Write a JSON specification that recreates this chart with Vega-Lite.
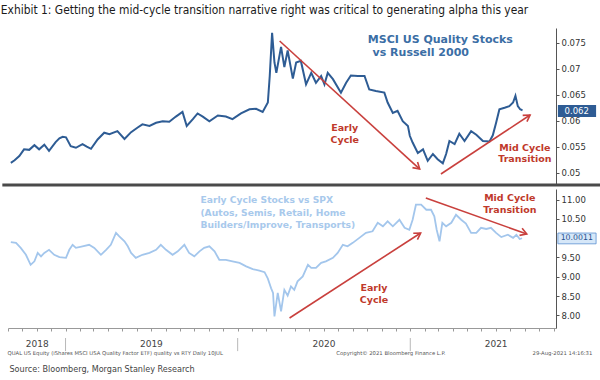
{
  "$schema": "https://vega.github.io/schema/vega-lite/v6.json",
  "padding": {"left": 0, "top": 4, "right": 0, "bottom": 0},
  "background": "white",
  "spacing": 2,
  "config": {"view": {"stroke": null}, "font": "DejaVu Sans"},
  "datasets": {
    "quality": [
      {"date": "2018-09-07", "v": 0.0519}, {"date": "2018-09-15", "v": 0.0524}, {"date": "2018-09-25", "v": 0.0532},
      {"date": "2018-10-05", "v": 0.0545}, {"date": "2018-10-16", "v": 0.0544}, {"date": "2018-10-27", "v": 0.0553},
      {"date": "2018-11-06", "v": 0.0545}, {"date": "2018-11-17", "v": 0.0554}, {"date": "2018-11-27", "v": 0.0542},
      {"date": "2018-12-11", "v": 0.0559}, {"date": "2018-12-19", "v": 0.0566}, {"date": "2018-12-26", "v": 0.0569},
      {"date": "2019-01-02", "v": 0.0568}, {"date": "2019-01-12", "v": 0.0551}, {"date": "2019-01-23", "v": 0.0548},
      {"date": "2019-02-06", "v": 0.0555}, {"date": "2019-02-15", "v": 0.055}, {"date": "2019-02-24", "v": 0.0546},
      {"date": "2019-03-10", "v": 0.0564}, {"date": "2019-03-24", "v": 0.0577}, {"date": "2019-04-04", "v": 0.0574},
      {"date": "2019-04-21", "v": 0.058}, {"date": "2019-05-06", "v": 0.0565}, {"date": "2019-05-20", "v": 0.0578},
      {"date": "2019-06-03", "v": 0.0587}, {"date": "2019-06-13", "v": 0.0593}, {"date": "2019-06-28", "v": 0.059},
      {"date": "2019-07-12", "v": 0.0596}, {"date": "2019-07-26", "v": 0.0599}, {"date": "2019-08-09", "v": 0.0598},
      {"date": "2019-08-23", "v": 0.0608}, {"date": "2019-09-06", "v": 0.0617}, {"date": "2019-09-15", "v": 0.059},
      {"date": "2019-09-28", "v": 0.0603}, {"date": "2019-10-08", "v": 0.0614}, {"date": "2019-10-19", "v": 0.0608},
      {"date": "2019-11-02", "v": 0.0599}, {"date": "2019-11-20", "v": 0.061}, {"date": "2019-12-07", "v": 0.0608},
      {"date": "2019-12-21", "v": 0.0603}, {"date": "2020-01-08", "v": 0.0614}, {"date": "2020-01-26", "v": 0.0622},
      {"date": "2020-02-09", "v": 0.0623}, {"date": "2020-02-23", "v": 0.0617}, {"date": "2020-03-05", "v": 0.0635},
      {"date": "2020-03-09", "v": 0.0686}, {"date": "2020-03-14", "v": 0.0769}, {"date": "2020-03-19", "v": 0.0712},
      {"date": "2020-03-23", "v": 0.0692}, {"date": "2020-04-02", "v": 0.0742}, {"date": "2020-04-09", "v": 0.0703},
      {"date": "2020-04-16", "v": 0.0735}, {"date": "2020-04-27", "v": 0.0681}, {"date": "2020-05-04", "v": 0.0712},
      {"date": "2020-05-14", "v": 0.0715}, {"date": "2020-05-25", "v": 0.067}, {"date": "2020-06-05", "v": 0.0692},
      {"date": "2020-06-15", "v": 0.0673}, {"date": "2020-06-26", "v": 0.0686}, {"date": "2020-07-03", "v": 0.067},
      {"date": "2020-07-10", "v": 0.0692}, {"date": "2020-07-21", "v": 0.068}, {"date": "2020-08-07", "v": 0.0654},
      {"date": "2020-08-18", "v": 0.0673}, {"date": "2020-08-28", "v": 0.0687}, {"date": "2020-09-12", "v": 0.0686},
      {"date": "2020-09-26", "v": 0.0686}, {"date": "2020-10-06", "v": 0.066}, {"date": "2020-10-20", "v": 0.0657},
      {"date": "2020-11-07", "v": 0.0654}, {"date": "2020-11-14", "v": 0.0635}, {"date": "2020-11-25", "v": 0.0615},
      {"date": "2020-12-05", "v": 0.0619}, {"date": "2020-12-16", "v": 0.0599}, {"date": "2020-12-27", "v": 0.059},
      {"date": "2020-12-31", "v": 0.0571}, {"date": "2021-01-06", "v": 0.0558}, {"date": "2021-01-17", "v": 0.0538},
      {"date": "2021-01-28", "v": 0.0545}, {"date": "2021-02-07", "v": 0.0523}, {"date": "2021-02-18", "v": 0.0536},
      {"date": "2021-02-28", "v": 0.0526}, {"date": "2021-03-11", "v": 0.0518}, {"date": "2021-03-18", "v": 0.0536},
      {"date": "2021-03-25", "v": 0.0561}, {"date": "2021-04-05", "v": 0.0555}, {"date": "2021-04-15", "v": 0.0575},
      {"date": "2021-04-26", "v": 0.0561}, {"date": "2021-05-10", "v": 0.058}, {"date": "2021-05-21", "v": 0.0573},
      {"date": "2021-06-04", "v": 0.0561}, {"date": "2021-06-18", "v": 0.056}, {"date": "2021-06-25", "v": 0.0572},
      {"date": "2021-07-02", "v": 0.0596}, {"date": "2021-07-09", "v": 0.0622}, {"date": "2021-07-20", "v": 0.0625},
      {"date": "2021-07-30", "v": 0.0628}, {"date": "2021-08-07", "v": 0.0635}, {"date": "2021-08-12", "v": 0.0648},
      {"date": "2021-08-17", "v": 0.0628}, {"date": "2021-08-22", "v": 0.0622}, {"date": "2021-08-27", "v": 0.062}
    ],
    "early": [
      {"date": "2018-09-07", "v": 9.9}, {"date": "2018-09-18", "v": 9.88}, {"date": "2018-09-28", "v": 9.75},
      {"date": "2018-10-09", "v": 9.57}, {"date": "2018-10-19", "v": 9.31}, {"date": "2018-10-27", "v": 9.4},
      {"date": "2018-11-03", "v": 9.62}, {"date": "2018-11-10", "v": 9.53}, {"date": "2018-11-17", "v": 9.62},
      {"date": "2018-11-27", "v": 9.7}, {"date": "2018-12-08", "v": 9.57}, {"date": "2018-12-19", "v": 9.51},
      {"date": "2019-01-02", "v": 9.49}, {"date": "2019-01-09", "v": 9.7}, {"date": "2019-01-16", "v": 9.83},
      {"date": "2019-01-23", "v": 9.75}, {"date": "2019-02-06", "v": 9.79}, {"date": "2019-02-20", "v": 9.83},
      {"date": "2019-03-03", "v": 9.75}, {"date": "2019-03-17", "v": 9.57}, {"date": "2019-03-28", "v": 9.7},
      {"date": "2019-04-07", "v": 9.83}, {"date": "2019-04-18", "v": 10.14}, {"date": "2019-04-25", "v": 10.05},
      {"date": "2019-05-06", "v": 9.92}, {"date": "2019-05-13", "v": 9.79}, {"date": "2019-05-20", "v": 9.62},
      {"date": "2019-05-30", "v": 9.49}, {"date": "2019-06-13", "v": 9.57}, {"date": "2019-06-28", "v": 9.62},
      {"date": "2019-07-12", "v": 9.7}, {"date": "2019-07-22", "v": 9.83}, {"date": "2019-08-02", "v": 9.7},
      {"date": "2019-08-16", "v": 9.57}, {"date": "2019-08-27", "v": 9.66}, {"date": "2019-09-10", "v": 9.83},
      {"date": "2019-09-20", "v": 9.62}, {"date": "2019-10-01", "v": 9.53}, {"date": "2019-10-12", "v": 9.66},
      {"date": "2019-10-22", "v": 9.75}, {"date": "2019-11-02", "v": 9.79}, {"date": "2019-11-13", "v": 9.66},
      {"date": "2019-11-23", "v": 9.44}, {"date": "2019-12-07", "v": 9.44}, {"date": "2019-12-21", "v": 9.4},
      {"date": "2020-01-05", "v": 9.36}, {"date": "2020-01-19", "v": 9.27}, {"date": "2020-02-02", "v": 9.2},
      {"date": "2020-02-16", "v": 9.16}, {"date": "2020-02-27", "v": 9.12}, {"date": "2020-03-05", "v": 8.95},
      {"date": "2020-03-12", "v": 8.7}, {"date": "2020-03-16", "v": 8.58}, {"date": "2020-03-19", "v": 7.97},
      {"date": "2020-03-26", "v": 8.58}, {"date": "2020-04-02", "v": 8.1}, {"date": "2020-04-09", "v": 8.66},
      {"date": "2020-04-16", "v": 8.51}, {"date": "2020-04-23", "v": 8.75}, {"date": "2020-04-30", "v": 8.66},
      {"date": "2020-05-07", "v": 8.88}, {"date": "2020-05-18", "v": 9.01}, {"date": "2020-05-29", "v": 9.31},
      {"date": "2020-06-05", "v": 9.23}, {"date": "2020-06-15", "v": 9.23}, {"date": "2020-06-26", "v": 9.36},
      {"date": "2020-07-06", "v": 9.4}, {"date": "2020-07-21", "v": 9.49}, {"date": "2020-07-31", "v": 9.62},
      {"date": "2020-08-11", "v": 9.83}, {"date": "2020-08-21", "v": 9.79}, {"date": "2020-09-01", "v": 9.88},
      {"date": "2020-09-15", "v": 10.01}, {"date": "2020-09-29", "v": 10.14}, {"date": "2020-10-13", "v": 10.18},
      {"date": "2020-10-24", "v": 10.4}, {"date": "2020-11-04", "v": 10.31}, {"date": "2020-11-14", "v": 10.44},
      {"date": "2020-11-25", "v": 10.31}, {"date": "2020-12-09", "v": 10.48}, {"date": "2020-12-20", "v": 10.27},
      {"date": "2020-12-30", "v": 10.22}, {"date": "2021-01-06", "v": 10.48}, {"date": "2021-01-13", "v": 10.87},
      {"date": "2021-01-24", "v": 10.87}, {"date": "2021-02-04", "v": 10.74}, {"date": "2021-02-14", "v": 10.74},
      {"date": "2021-02-21", "v": 10.57}, {"date": "2021-02-26", "v": 10.22}, {"date": "2021-03-04", "v": 9.92},
      {"date": "2021-03-10", "v": 10.4}, {"date": "2021-03-18", "v": 10.31}, {"date": "2021-03-29", "v": 10.4},
      {"date": "2021-04-08", "v": 10.61}, {"date": "2021-04-19", "v": 10.48}, {"date": "2021-04-29", "v": 10.38},
      {"date": "2021-05-10", "v": 10.14}, {"date": "2021-05-21", "v": 10.14}, {"date": "2021-05-31", "v": 10.27},
      {"date": "2021-06-11", "v": 10.24}, {"date": "2021-06-21", "v": 10.27}, {"date": "2021-07-02", "v": 10.14},
      {"date": "2021-07-13", "v": 10.03}, {"date": "2021-07-27", "v": 10.09}, {"date": "2021-08-07", "v": 10.01},
      {"date": "2021-08-14", "v": 10.09}, {"date": "2021-08-21", "v": 9.98}, {"date": "2021-08-26", "v": 10.0}
    ],
    "sepTop": [{"date": "2018-08-20", "date2": "2022-02-14", "v": 0.04764}],
    "yearSep": [
      {"date": "2019-01-01", "v": 7.41, "v2": 7.07},
      {"date": "2020-01-01", "v": 7.41, "v2": 7.07},
      {"date": "2021-01-01", "v": 7.41, "v2": 7.07}
    ],
    "arrowsTop": [
      {"arrow": "early", "date": "2020-03-30", "v": 0.07533}, {"arrow": "early", "date": "2021-01-21", "v": 0.05071},
      {"arrow": "mid", "date": "2021-03-07", "v": 0.04975}, {"arrow": "mid", "date": "2021-09-12", "v": 0.0611}
    ],
    "arrowsBottom": [
      {"arrow": "early", "date": "2020-04-20", "v": 7.93}, {"arrow": "early", "date": "2021-01-23", "v": 10.136},
      {"arrow": "mid", "date": "2021-02-03", "v": 11.044}, {"arrow": "mid", "date": "2021-09-05", "v": 10.11}
    ],
    "titleTop": [
      {"date": "2020-10-03", "v": 0.07552, "label": "MSCI US Quality Stocks"},
      {"date": "2020-10-13", "v": 0.07302, "label": "vs Russell 2000"}
    ],
    "redTop": [
      {"date": "2020-08-15", "v": 0.0586, "label": "Early"},
      {"date": "2020-08-15", "v": 0.05629, "label": "Cycle"},
      {"date": "2021-09-01", "v": 0.05475, "label": "Mid Cycle"},
      {"date": "2021-09-01", "v": 0.05264, "label": "Transition"}
    ],
    "titleBottom": [
      {"date": "2019-10-14", "v": 10.99, "label": "Early Cycle Stocks vs SPX"},
      {"date": "2019-10-14", "v": 10.668, "label": "(Autos, Semis, Retail, Home"},
      {"date": "2019-10-14", "v": 10.344, "label": "Builders/Improve, Transports)"}
    ],
    "redBottom": [
      {"date": "2020-10-16", "v": 8.709, "label": "Early"},
      {"date": "2020-10-16", "v": 8.398, "label": "Cycle"},
      {"date": "2021-07-31", "v": 11.044, "label": "Mid Cycle"},
      {"date": "2021-07-31", "v": 10.733, "label": "Transition"}
    ],
    "boxTop": [{"date": "2021-11-10", "date2": "2022-01-30", "v": 0.063, "v2": 0.0607}],
    "lastTop": [{"date": "2021-12-20", "v": 0.0619, "label": "0.062"}],
    "boxBottom": [{"date": "2021-11-10", "date2": "2022-01-30", "v": 10.135, "v2": 9.855}],
    "lastBottom": [{"date": "2021-12-20", "v": 9.995, "label": "10.0011"}],
    "footerLeft": [{"date": "2018-08-31", "v": 7.022, "label": "QUAL US Equity (iShares MSCI USA Quality Factor ETF) quality vs RTY  Daily 10JUL"}],
    "footerMid": [{"date": "2020-11-21", "v": 7.022, "label": "Copyright© 2021 Bloomberg Finance L.P."}],
    "footerRight": [{"date": "2022-01-22", "v": 7.022, "label": "29-Aug-2021 14:16:31"}],
    "source": [{"date": "2018-09-04", "v": 6.607, "label": "Source: Bloomberg, Morgan Stanley Research"}]
  },
  "vconcat": [
    {
      "width": 548,
      "height": 157,
      "title": {
        "text": "Exhibit 1:  Getting the mid-cycle transition narrative right was critical to generating alpha this year",
        "anchor": "start",
        "font": "DejaVu Sans Condensed, Liberation Sans Narrow, Liberation Sans",
        "fontSize": 11.9,
        "fontWeight": "normal",
        "color": "#1a1a1a",
        "offset": 10.8
      },
      "encoding": {
        "x": {
          "field": "date", "type": "temporal",
          "scale": {"type": "utc", "domain": [{"year": 2018, "month": 9, "date": 1, "utc": true}, {"year": 2021, "month": 11, "date": 6, "utc": true}]},
          "axis": null
        },
        "y": {
          "field": "v", "type": "quantitative",
          "scale": {"domain": [0.04764, 0.07783], "nice": false, "zero": false},
          "axis": {"orient": "right", "values": [0.05, 0.055, 0.06, 0.065, 0.07, 0.075], "format": ".3~f", "title": null, "grid": false,
                   "domainColor": "#555", "tickColor": "#555", "tickSize": 3, "labelFont": "DejaVu Sans", "labelFontSize": 8.5,
                   "labelColor": "#333", "labelPadding": 2}
        }
      },
      "layer": [
        {"data": {"name": "sepTop"}, "mark": {"type": "rule", "color": "#4a4a4a", "strokeWidth": 3},
         "encoding": {"x2": {"field": "date2"}}},
        {"data": {"name": "quality"}, "mark": {"type": "line", "color": "#2e5c94", "strokeWidth": 2}},
        {"data": {"name": "arrowsTop"}, "mark": {"type": "line", "color": "#c9403d", "strokeWidth": 1.6},
         "encoding": {"detail": {"field": "arrow"}}},
        {"data": {"name": "arrowsTop"},
         "transform": [{"filter": "datum.arrow == 'early' && datum.v < 0.06"}],
         "mark": {"type": "point", "shape": "M -1 -0.6 L 0 0 L -1 0.6", "filled": false, "stroke": "#c9403d", "strokeWidth": 1.6, "size": 160, "angle": 42, "opacity": 1}},
        {"data": {"name": "arrowsTop"},
         "transform": [{"filter": "datum.arrow == 'mid' && datum.v > 0.055"}],
         "mark": {"type": "point", "shape": "M -1 -0.6 L 0 0 L -1 0.6", "filled": false, "stroke": "#c9403d", "strokeWidth": 1.6, "size": 160, "angle": 326, "opacity": 1}},
        {"data": {"name": "titleTop"}, "mark": {"type": "text", "align": "left", "baseline": "middle", "font": "DejaVu Sans", "fontWeight": "bold", "fontSize": 11, "color": "#3b6ea5"},
         "encoding": {"text": {"field": "label"}}},
        {"data": {"name": "redTop"}, "mark": {"type": "text", "align": "center", "baseline": "middle", "font": "DejaVu Sans", "fontWeight": "bold", "fontSize": 9.5, "color": "#c0392b"},
         "encoding": {"text": {"field": "label"}}},
        {"data": {"name": "boxTop"}, "mark": {"type": "rect", "color": "#2e5c94"},
         "encoding": {"x2": {"field": "date2"}, "y2": {"field": "v2"}}},
        {"data": {"name": "lastTop"}, "mark": {"type": "text", "align": "center", "baseline": "middle", "font": "DejaVu Sans", "fontSize": 8.5, "color": "white"},
         "encoding": {"text": {"field": "label"}}}
      ]
    },
    {
      "width": 548,
      "height": 139,
      "encoding": {
        "x": {
          "field": "date", "type": "temporal",
          "scale": {"type": "utc", "domain": [{"year": 2018, "month": 9, "date": 1, "utc": true}, {"year": 2021, "month": 11, "date": 6, "utc": true}]},
          "axis": {
            "orient": "bottom", "title": null, "grid": false,
            "tickCount": {"interval": "month", "step": 1},
            "labelExpr": "(utcmonth(datum.value) == 6 || (utcyear(datum.value) == 2018 && utcmonth(datum.value) == 10)) ? utcFormat(datum.value, '%Y') : ''",
            "labelOverlap": false, "labelFlush": false, "labelBound": false,
            "labelFont": "DejaVu Sans", "labelFontSize": 9, "labelColor": "#444", "labelPadding": 8,
            "domainColor": "#999", "tickColor": "#999", "tickSize": 3
          }
        },
        "y": {
          "field": "v", "type": "quantitative",
          "scale": {"domain": [7.67, 11.278], "nice": false, "zero": false},
          "axis": {"orient": "right", "values": [8, 8.5, 9, 9.5, 10.5, 11], "format": ".2f", "title": null, "grid": false,
                   "domainColor": "#555", "tickColor": "#555", "tickSize": 3, "labelFont": "DejaVu Sans", "labelFontSize": 8.5,
                   "labelColor": "#333", "labelPadding": 2}
        }
      },
      "layer": [
        {"data": {"name": "yearSep"}, "mark": {"type": "rule", "color": "#b8b8b8", "strokeWidth": 1},
         "encoding": {"y2": {"field": "v2"}}},
        {"data": {"name": "early"}, "mark": {"type": "line", "color": "#a3c6ec", "strokeWidth": 1.8}},
        {"data": {"name": "arrowsBottom"}, "mark": {"type": "line", "color": "#c9403d", "strokeWidth": 1.6},
         "encoding": {"detail": {"field": "arrow"}}},
        {"data": {"name": "arrowsBottom"},
         "transform": [{"filter": "datum.arrow == 'early' && datum.v > 9"}],
         "mark": {"type": "point", "shape": "M -1 -0.6 L 0 0 L -1 0.6", "filled": false, "stroke": "#c9403d", "strokeWidth": 1.6, "size": 160, "angle": 327, "opacity": 1}},
        {"data": {"name": "arrowsBottom"},
         "transform": [{"filter": "datum.arrow == 'mid' && datum.v < 10.5"}],
         "mark": {"type": "point", "shape": "M -1 -0.6 L 0 0 L -1 0.6", "filled": false, "stroke": "#c9403d", "strokeWidth": 1.6, "size": 160, "angle": 20, "opacity": 1}},
        {"data": {"name": "titleBottom"}, "mark": {"type": "text", "align": "left", "baseline": "middle", "font": "DejaVu Sans", "fontWeight": "bold", "fontSize": 9.2, "color": "#a8c9ec"},
         "encoding": {"text": {"field": "label"}}},
        {"data": {"name": "redBottom"}, "mark": {"type": "text", "align": "center", "baseline": "middle", "font": "DejaVu Sans", "fontWeight": "bold", "fontSize": 9.5, "color": "#c0392b"},
         "encoding": {"text": {"field": "label"}}},
        {"data": {"name": "boxBottom"}, "mark": {"type": "rect", "color": "#d6e7f8", "stroke": "#5b8fd0", "strokeWidth": 0.8},
         "encoding": {"x2": {"field": "date2"}, "y2": {"field": "v2"}}},
        {"data": {"name": "lastBottom"}, "mark": {"type": "text", "align": "center", "baseline": "middle", "font": "DejaVu Sans", "fontSize": 7.8, "color": "#1f4f8f"},
         "encoding": {"text": {"field": "label"}}},
        {"data": {"name": "footerLeft"}, "mark": {"type": "text", "align": "left", "baseline": "middle", "font": "DejaVu Sans", "fontSize": 5.3, "color": "#555"},
         "encoding": {"text": {"field": "label"}}},
        {"data": {"name": "footerMid"}, "mark": {"type": "text", "align": "center", "baseline": "middle", "font": "DejaVu Sans", "fontSize": 5.3, "color": "#555"},
         "encoding": {"text": {"field": "label"}}},
        {"data": {"name": "footerRight"}, "mark": {"type": "text", "align": "right", "baseline": "middle", "font": "DejaVu Sans", "fontSize": 5.3, "color": "#555"},
         "encoding": {"text": {"field": "label"}}},
        {"data": {"name": "source"}, "mark": {"type": "text", "align": "left", "baseline": "middle", "font": "DejaVu Sans Condensed, Liberation Sans Narrow, Liberation Sans", "fontSize": 9, "color": "#444"},
         "encoding": {"text": {"field": "label"}}}
      ]
    }
  ]
}
